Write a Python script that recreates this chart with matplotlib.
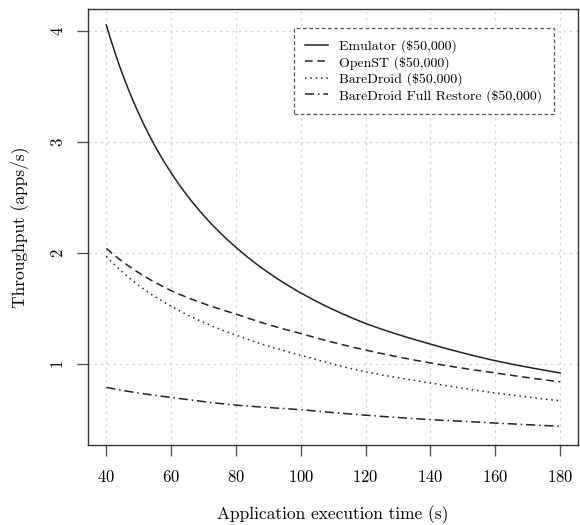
import numpy as np
import matplotlib.pyplot as plt

plt.rcParams['font.family'] = 'cmr10'
plt.rcParams['mathtext.fontset'] = 'cm'
plt.rcParams['axes.formatter.use_mathtext'] = True

# execution time (s)
t = [40, 60, 80, 100, 120, 140, 160, 180]
# throughput (apps/s)
emulator = [4.05, 2.72, 2.05, 1.64, 1.365, 1.18, 1.03, 0.92]
openst = [2.04, 1.66, 1.45, 1.275, 1.126, 1.01, 0.92, 0.84]
baredroid = [1.97, 1.52, 1.26, 1.08, 0.93, 0.83, 0.74, 0.67]
full_restore = [0.79, 0.70, 0.63, 0.59, 0.54, 0.50, 0.47, 0.44]

labels = ['Emulator (\\$50,000)', 'OpenST (\\$50,000)',
          'BareDroid (\\$50,000)', 'BareDroid Full Restore (\\$50,000)']

fig = plt.figure(figsize=(5.8, 5.25), dpi=100)
ax = fig.add_axes([0.152, 0.152, 0.845, 0.830])

# smooth the curves between read points (log-log interpolation)
def smooth(x, y):
    xs = np.linspace(x[0], x[-1], 300)
    ys = np.exp(np.interp(np.log(xs), np.log(x), np.log(y)))
    return xs, ys

lc = '#222222'
styles = ['-', (0, (5, 3)), (0, (1, 2.5)), (0, (6, 2.5, 1, 2.5))]
for ys, ls, lab in zip([emulator, openst, baredroid, full_restore], styles, labels):
    xs, yy = smooth(t, ys)
    ax.plot(xs, yy, color=lc, lw=1.1, linestyle=ls, label=lab)

ax.set_xlim(34.4, 185.6)
ax.set_ylim(0.27, 4.19)
ax.set_xticks(np.arange(40, 181, 20))
ax.set_yticks([1, 2, 3, 4])
ax.grid(True, color='#d4d4d4', linestyle=(0, (2, 3)), lw=0.9)
ax.set_axisbelow(True)

for s in ax.spines.values():
    s.set_color('#333333')
    s.set_linewidth(1.0)

ax.tick_params(axis='both', labelsize=12, length=8, width=1.0, color='#555555')
ax.tick_params(axis='x', pad=9)
ax.tick_params(axis='y', pad=8)
for lbl in ax.get_yticklabels():
    lbl.set_rotation(90)
    lbl.set_va('center')

ax.set_xlabel('Application execution time (s)', fontsize=12.5, labelpad=15)
ax.set_ylabel('Throughput (apps/s)', fontsize=12.5, labelpad=15)

leg = ax.legend(loc='upper right', bbox_to_anchor=(0.964, 0.973), fontsize=10,
                fancybox=False, framealpha=1, handlelength=1.7,
                borderpad=0.8, labelspacing=0.2, handletextpad=0.8)
frame = leg.get_frame()
frame.set_edgecolor('#555555')
frame.set_linestyle((0, (3, 2)))
frame.set_linewidth(0.9)

fig.savefig('out.png', dpi=100)
